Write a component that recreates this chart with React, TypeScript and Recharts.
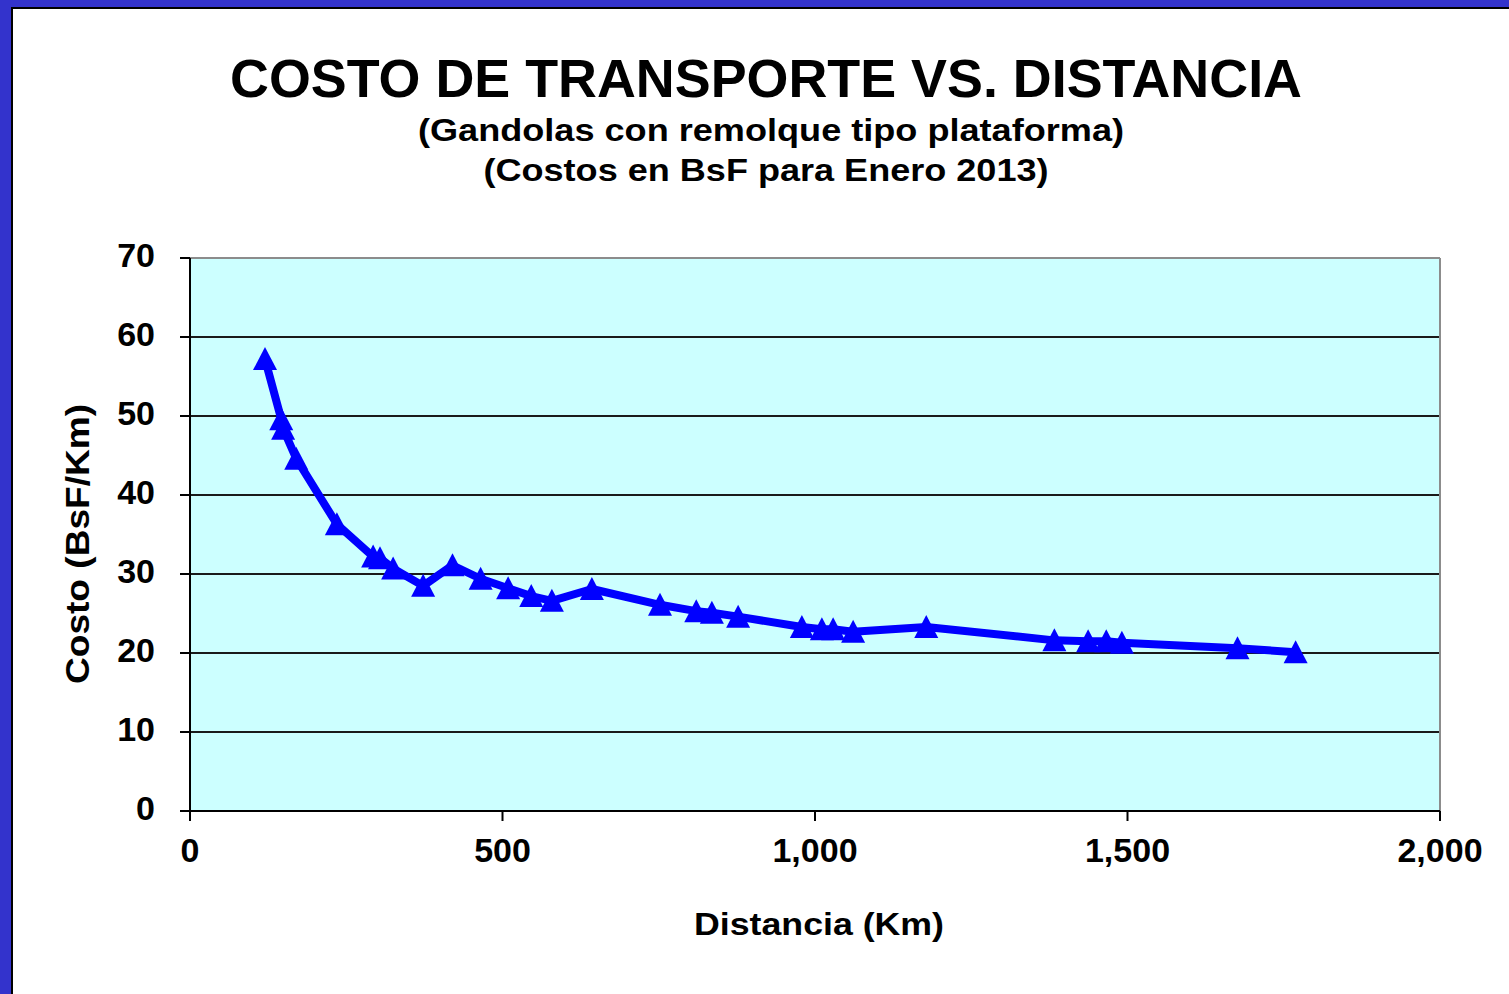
import React from 'react';
import { LineChart, Line, XAxis, YAxis, CartesianGrid, ReferenceLine } from 'recharts';

// distance (Km) and cost (BsF/Km)
const distances = [120, 146, 149, 170, 235, 293, 304, 325, 373, 420, 465, 509, 546, 579, 643, 752, 810, 835, 877, 979, 1011, 1029, 1061, 1178, 1383, 1437, 1466, 1491, 1676, 1769];
const costs = [57.2, 49.6, 48.4, 44.6, 36.3, 32.2, 32.0, 30.7, 28.5, 31.1, 29.4, 28.2, 27.2, 26.6, 28.1, 26.1, 25.3, 25.1, 24.6, 23.3, 23.0, 23.0, 22.7, 23.3, 21.6, 21.5, 21.5, 21.3, 20.6, 20.1];

const xTicks = [0, 500, 1000, 1500, 2000];
const yTicks = [0, 10, 20, 30, 40, 50, 60, 70];

const title = 'COSTO DE TRANSPORTE VS. DISTANCIA';
const subtitle1 = '(Gandolas con remolque tipo plataforma)';
const subtitle2 = '(Costos en BsF para Enero 2013)';
const xLabel = 'Distancia (Km)';
const yLabel = 'Costo (BsF/Km)';

const FONT = '"Liberation Sans", Arial, sans-serif';
const BLUE = '#0000FF';

const data = distances.map((d, i) => ({ d, c: costs[i] }));

const Triangle = (props: any) => {
  const { cx, cy, index } = props;
  if (cx == null || cy == null) return <g key={`t${index}`} />;
  return (
    <polygon
      key={`t${index}`}
      points={`${cx},${cy - 12} ${cx - 12},${cy + 11} ${cx + 12},${cy + 11}`}
      fill={BLUE}
    />
  );
};

const YTick = (props: any) => {
  const { x, y, payload } = props;
  return (
    <text x={x} y={y - 3} dy="0.355em" textAnchor="end" fontSize={34} fontWeight="bold" fill="#000" fontFamily={FONT}>
      {payload.value}
    </text>
  );
};

export default function App() {
  const tick = { fontSize: 34, fontWeight: 'bold', fill: '#000', fontFamily: FONT };
  return (
    <div style={{ position: 'fixed', left: 0, top: 0, width: 1509, height: 994, background: '#3333CC', overflow: 'hidden' }}>
      <div
        style={{
          position: 'absolute', left: 11, top: 7, right: 0, bottom: 0,
          background: '#fff', borderLeft: '2px solid #000', borderTop: '2px solid #000',
        }}
      />
      <div style={{ position: 'absolute', left: 0, top: 0 }}>
        <LineChart width={1509} height={994} data={data} margin={{ top: 258, right: 69, bottom: 123, left: 0 }}>
          <CartesianGrid vertical={false} fill="#CCFFFF" fillOpacity={1} stroke="#1a1a1a" strokeWidth={2} />
          <ReferenceLine y={70} stroke="#8c8c8c" strokeWidth={2} />
          <ReferenceLine x={2000} stroke="#8c8c8c" strokeWidth={2} />
          <XAxis
            dataKey="d"
            type="number"
            domain={[0, 2000]}
            ticks={xTicks}
            height={60}
            tickSize={10}
            tickMargin={17}
            tick={tick}
            axisLine={{ stroke: '#000', strokeWidth: 2 }}
            tickLine={{ stroke: '#000', strokeWidth: 2 }}
            tickFormatter={(v: number) => v.toLocaleString('en-US')}
          />
          <YAxis
            type="number"
            domain={[0, 70]}
            ticks={yTicks}
            width={190}
            tickSize={10}
            tickMargin={25}
            tick={<YTick />}
            axisLine={{ stroke: '#000', strokeWidth: 2 }}
            tickLine={{ stroke: '#000', strokeWidth: 2 }}
          />
          <Line
            dataKey="c"
            type="linear"
            stroke={BLUE}
            strokeWidth={8}
            strokeLinejoin="round"
            dot={Triangle}
            activeDot={false}
            isAnimationActive={false}
          />
        </LineChart>
      </div>
      <svg width={1509} height={994} style={{ position: 'absolute', left: 0, top: 0, pointerEvents: 'none' }}>
        <g fontFamily={FONT} fontWeight="bold" fill="#000" textAnchor="middle">
          <text x={766} y={97} fontSize={54} textLength={1072} lengthAdjust="spacingAndGlyphs">{title}</text>
          <text x={771} y={141} fontSize={32} textLength={706} lengthAdjust="spacingAndGlyphs">{subtitle1}</text>
          <text x={766} y={181} fontSize={32} textLength={565} lengthAdjust="spacingAndGlyphs">{subtitle2}</text>
          <text x={819} y={935} fontSize={32} textLength={250} lengthAdjust="spacingAndGlyphs">{xLabel}</text>
          <text x={89} y={544} fontSize={33} textLength={280} lengthAdjust="spacingAndGlyphs" transform="rotate(-90 89 544)">{yLabel}</text>
        </g>
      </svg>
    </div>
  );
}
